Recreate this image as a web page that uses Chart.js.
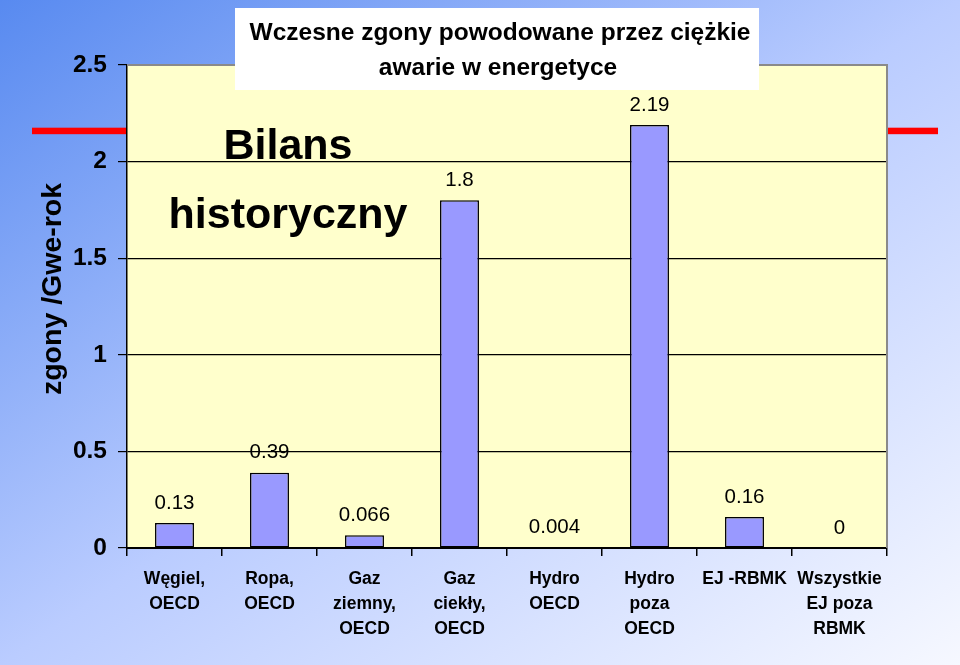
<!DOCTYPE html>
<html>
<head>
<meta charset="utf-8">
<script src="https://cdn.jsdelivr.net/npm/chart.js@4/dist/chart.umd.min.js"></script>
<style>
  html, body { margin: 0; padding: 0; }
  body {
    width: 960px; height: 665px; overflow: hidden;
    background: linear-gradient(to bottom right, rgb(88,138,240) 0%, rgb(186,204,255) 50%, rgb(246,248,255) 100%);
  }
  #wrap { position: relative; width: 960px; height: 665px; }
</style>
</head>
<body>
<div id="wrap"><canvas id="c" width="960" height="665"></canvas></div>
<script>
// ---- data ----
const categories = [
  ['Węgiel,', 'OECD'],
  ['Ropa,', 'OECD'],
  ['Gaz', 'ziemny,', 'OECD'],
  ['Gaz', 'ciekły,', 'OECD'],
  ['Hydro', 'OECD'],
  ['Hydro', 'poza', 'OECD'],
  'EJ -RBMK',
  ['Wszystkie', 'EJ poza', 'RBMK']
];
const values = [0.13, 0.39, 0.066, 1.8, 0.004, 2.19, 0.16, 0];
const valueLabels = ['0.13', '0.39', '0.066', '1.8', '0.004', '2.19', '0.16', '0'];
const yTicks = [0, 0.5, 1, 1.5, 2, 2.5];
const refLineValue = [2.16];
const titleLines = ['Wczesne zgony powodowane przez ciężkie', 'awarie w energetyce'];
const noteLines = ['Bilans', 'historyczny'];
const yAxisTitle = 'zgony /Gwe-rok';

const FONT = 'Arial, "Liberation Sans", Helvetica, sans-serif';

const decorPlugin = {
  id: 'decor',
  beforeDraw(chart) {
    const ctx = chart.ctx, a = chart.chartArea, y = chart.scales.y;
    ctx.save();
    const ry = y.getPixelForValue(refLineValue[0]);
    ctx.fillStyle = '#ff0000';
    ctx.fillRect(32, ry - 3, 938 - 32, 6.5);
    ctx.fillStyle = '#ffffcc';
    ctx.fillRect(a.left, a.top, a.right - a.left, a.bottom - a.top);
    ctx.restore();
  },
  beforeDatasetsDraw(chart) {
    const ctx = chart.ctx;
    const meta = chart.getDatasetMeta(0);
    ctx.save();
    ctx.font = '20.5px ' + FONT;
    ctx.fillStyle = '#000';
    ctx.textAlign = 'center';
    ctx.textBaseline = 'middle';
    meta.data.forEach((bar, i) => {
      ctx.fillText(valueLabels[i], bar.x, bar.y - 20);
    });
    ctx.restore();
  },
  afterDraw(chart) {
    const ctx = chart.ctx, a = chart.chartArea;
    ctx.save();
    ctx.strokeStyle = '#8a8a8a';
    ctx.lineWidth = 2;
    ctx.beginPath();
    ctx.moveTo(a.left, a.top);
    ctx.lineTo(a.right, a.top);
    ctx.lineTo(a.right, a.bottom);
    ctx.stroke();
    ctx.fillStyle = '#ffffff';
    ctx.fillRect(235, 8, 524, 82);
    ctx.fillStyle = '#000';
    ctx.textAlign = 'center';
    ctx.textBaseline = 'alphabetic';
    ctx.font = 'bold 24.5px ' + FONT;
    ctx.fillText(titleLines[0], 500, 40);
    ctx.fillText(titleLines[1], 498, 75);
    ctx.font = 'bold 43px ' + FONT;
    ctx.fillText(noteLines[0], 288, 159);
    ctx.fillText(noteLines[1], 288, 228);
    ctx.translate(61, 289);
    ctx.rotate(-Math.PI / 2);
    ctx.font = 'bold 28.5px ' + FONT;
    ctx.fillText(yAxisTitle, 0, 0);
    ctx.restore();
  }
};

new Chart(document.getElementById('c'), {
  type: 'bar',
  data: {
    labels: categories,
    datasets: [{
      data: values,
      backgroundColor: '#9999ff',
      borderColor: '#000000',
      borderWidth: 1.5,
      borderSkipped: false,
      barPercentage: 0.41,
      categoryPercentage: 1.0
    }]
  },
  options: {
    responsive: false,
    animation: false,
    devicePixelRatio: 1,
    layout: { padding: { left: 0, top: 65, right: 73, bottom: 0 } },
    plugins: { legend: { display: false }, tooltip: { enabled: false }, title: { display: false } },
    scales: {
      x: {
        afterFit(s) { s.height = 117; },
        grid: {
          offset: true,
          drawOnChartArea: false,
          drawTicks: true,
          tickLength: 8,
          tickColor: '#000',
          lineWidth: 1.5,
          color: '#000'
        },
        border: { display: true, color: '#000', width: 2 },
        ticks: {
          color: '#000',
          padding: 11,
          maxRotation: 0,
          autoSkip: false,
          font: { family: FONT, size: 17.5, weight: 'bold', lineHeight: 1.43 }
        }
      },
      y: {
        min: 0,
        max: 2.5,
        afterFit(s) { s.width = 127; },
        afterBuildTicks(s) { s.ticks = yTicks.map(v => ({ value: v })); },
        grid: {
          color: (c) => (c.tick && c.tick.value === 2.5) ? 'rgba(0,0,0,0)' : '#000',
          lineWidth: 1.2,
          tickLength: 9,
          tickColor: '#000',
          drawTicks: true
        },
        border: { display: true, color: '#000', width: 1.5 },
        ticks: {
          color: '#000',
          padding: 11,
          font: { family: FONT, size: 24.5, weight: 'bold' },
          callback: (v) => String(v)
        }
      }
    }
  },
  plugins: [decorPlugin]
});
</script>
</body>
</html>
